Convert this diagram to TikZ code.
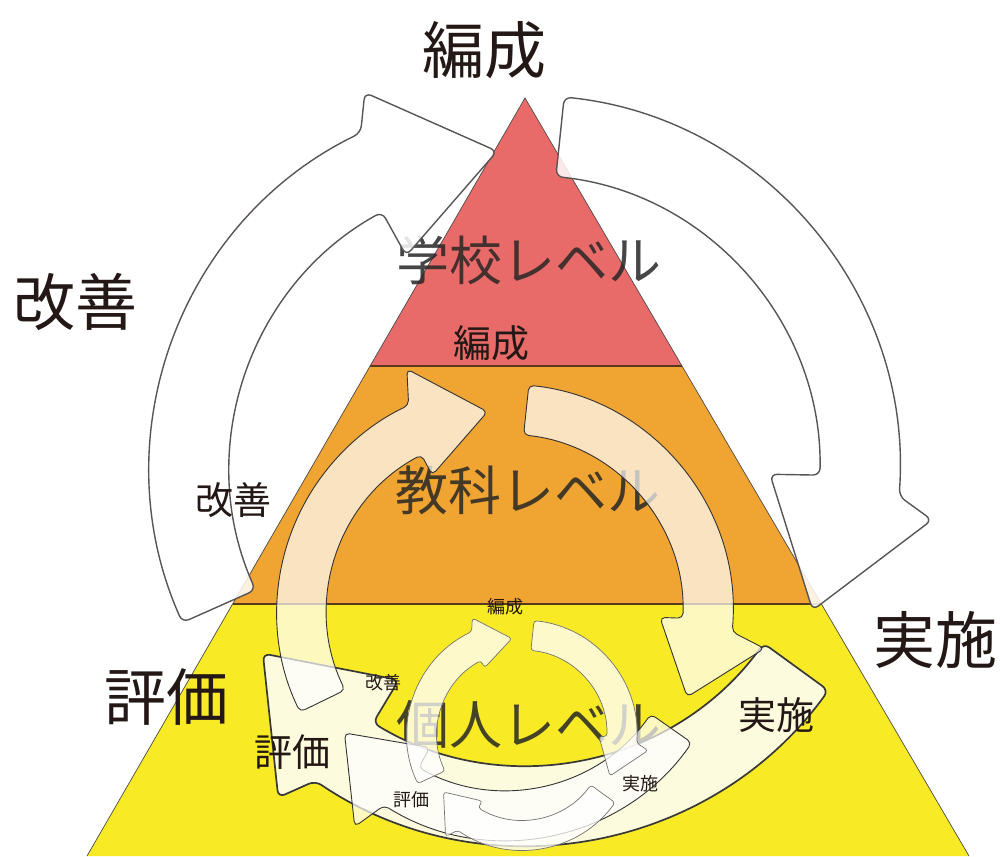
\documentclass[tikz,border=0pt]{standalone}
\usepackage{fontspec}
\setmainfont{Noto Sans CJK JP}
\usetikzlibrary{calc}
\definecolor{lvred}{HTML}{E96B69}
\definecolor{lvorange}{HTML}{F0A431}
\definecolor{lvyellow}{HTML}{F8EA25}
\definecolor{ink}{HTML}{231815}
\definecolor{bandline}{HTML}{5A3A1E}
\definecolor{arrowline}{HTML}{5A5555}
\def\tipd{0}
% #1 style, #2 centre, #3 inner r, #4 outer r, #5 tail angle, #6 head-base angle, #7 tip angle, #8 inner wing r, #9 outer wing r
\newcommand\cycarrow[9]{%
  \pgfmathsetmacro\tipr{(#3+#4)/2-\tipd}%
  \draw[#1] ($(#2)+(#5:#4)$) arc[start angle=#5, end angle=#6, radius=#4]
    -- ($(#2)+({#6-3}:#9)$) -- ($(#2)+(#7:\tipr)$) -- ($(#2)+({#6+3}:#8)$)
    -- ($(#2)+({#6+3}:#3)$) arc[start angle={#6+3}, end angle=#5, radius=#3] -- cycle;}
\begin{document}
\begin{tikzpicture}[x=1pt,y=1pt,
  bigarrow/.style={fill=white, fill opacity=0.85, draw=arrowline, line width=1.4, rounded corners=7},
  bigarrowb/.style={bigarrow, draw=black!78, line width=1.7},
  midarrow/.style={fill=white, fill opacity=0.7, draw=black!80, line width=0.9, rounded corners=5},
  smallarrow/.style={fill=white, fill opacity=0.76, draw=black!55, line width=0.7, rounded corners=3},
  lbig/.style={font=\fontsize{62}{62}\selectfont, text=ink, inner sep=0},
  lmid/.style={font=\fontsize{38}{38}\selectfont, text=ink, inner sep=0},
  lsmall/.style={font=\fontsize{18}{18}\selectfont, text=ink, inner sep=0},
  level/.style={font=\fontsize{53}{53}\selectfont, text=black!85, text opacity=0.85, inner sep=0}]
\useasboundingbox (0,0) rectangle (1000,856);
% pyramid
\coordinate (apex) at (525,758);
\coordinate (bl) at (87,0);
\coordinate (br) at (969,0);
\coordinate (l1) at (370,490);
\coordinate (r1) at (682,490);
\coordinate (l2) at (232.5,252);
\coordinate (r2) at (821.5,252);
\fill[lvred] (apex) -- (r1) -- (l1) -- cycle;
\fill[lvorange] (l1) -- (r1) -- (r2) -- (l2) -- cycle;
\fill[lvyellow] (l2) -- (r2) -- (br) -- (bl) -- cycle;
\draw[bandline, line width=1.8] (l1) -- (r1);
\draw[bandline, line width=1.8] (l2) -- (r2);
\draw[black!70, line width=0.7] (bl) -- (apex) -- (br);
% level labels
\node[level] (school) at (529,596) {学校レベル};
\node[level] (subject) at (528,366) {教科レベル};
\node[level] (person) at (529,131) {個人レベル};
% big cycle
\coordinate (cb) at (525,386);
\def\tipd{15}
\cycarrow{bigarrow}{cb}{295}{375}{204}{116}{95}{245}{410}
\cycarrow{bigarrow}{cb}{295}{375}{84}{-4}{-26}{245}{410}
\cycarrow{bigarrowb}{cb}{295}{375}{-36}{-124}{-145}{245}{410}
% medium cycle
\coordinate (cm) at (505,244);
\def\tipd{2}
\cycarrow{midarrow}{cm}{178}{228}{206}{115}{95}{155}{262}
\cycarrow{midarrow}{cm}{178}{228}{84}{-5}{-25}{155}{262}
\cycarrow{midarrow}{cm}{178}{228}{-35}{-122}{-143}{155}{262}
% small cycle
\coordinate (cs) at (522,121);
\def\tipd{3}
\cycarrow{smallarrow}{cs}{85}{115}{205}{116}{96}{77}{127}
\cycarrow{smallarrow}{cs}{85}{115}{84}{-4}{-25}{77}{127}
\cycarrow{smallarrow}{cs}{85}{115}{-36}{-124}{-144}{77}{127}
% labels
\node[lbig] (b1) at (484,806) {編成};
\node[lbig] (b2) at (75,554) {改善};
\node[lbig] (b3) at (935,216) {実施};
\node[lbig] (b4) at (166,159) {評価};
\node[lmid] (m1) at (491,513) {編成};
\node[lmid] (m2) at (233,356) {改善};
\node[lmid] (m3) at (776,141) {実施};
\node[lmid] (m4) at (292,104) {評価};
\node[lsmall] (s1) at (505,249) {編成};
\node[lsmall] (s2) at (383,173) {改善};
\node[lsmall] (s3) at (640,72) {実施};
\node[lsmall] (s4) at (411,56) {評価};
\end{tikzpicture}
\end{document}
